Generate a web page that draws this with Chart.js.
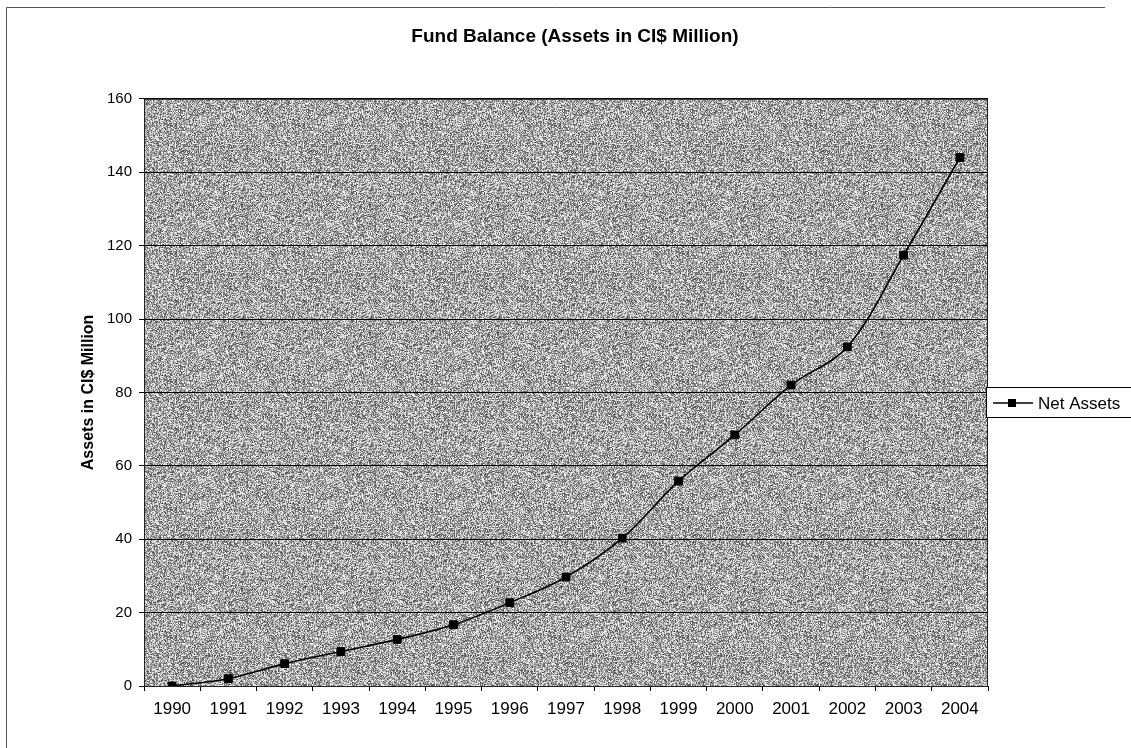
<!DOCTYPE html>
<html>
<head>
<meta charset="utf-8">
<title>Fund Balance</title>
<script src="https://cdn.jsdelivr.net/npm/chart.js"></script>
<style>
  html, body { margin: 0; padding: 0; background: #fff; }
  #wrap { position: relative; width: 1131px; height: 748px; }
</style>
</head>
<body>
<div id="wrap"><canvas id="fundChart" width="1131" height="748"></canvas></div>
<script>
// data
var years = ['1990', '1991', '1992', '1993', '1994', '1995', '1996', '1997',
             '1998', '1999', '2000', '2001', '2002', '2003', '2004'];
var netAssets = [0, 2.0, 6.1, 9.4, 12.7, 16.7, 22.7, 29.7,
                 40.3, 55.8, 68.4, 82.0, 92.4, 117.4, 144.0];
var yTicks = [0, 20, 40, 60, 80, 100, 120, 140, 160];
var seriesName = 'Net Assets';
var chartTitle = 'Fund Balance (Assets in CI$ Million)';
var yTitle = 'Assets in CI$ Million';

var FONT = '"Liberation Sans", Arial, sans-serif';
Chart.defaults.font.family = FONT;
Chart.defaults.color = '#000';

// grey speckled fill like the old excel plot area
function speckle(ctx) {
  var c = document.createElement('canvas');
  c.width = 128; c.height = 128;
  var g = c.getContext('2d');
  var img = g.createImageData(128, 128);
  for (var y = 0; y < 128; y++) {
    for (var x = 0; x < 128; x++) {
      var h = Math.imul(x, 374761393) + Math.imul(y, 668265263);
      h = Math.imul(h ^ (h >>> 13), 1274126177);
      h ^= h >>> 16;
      var v = 78 + Math.floor((h & 255) * 0.7);
      var i = (y * 128 + x) * 4;
      img.data[i] = v; img.data[i + 1] = v; img.data[i + 2] = v; img.data[i + 3] = 255;
    }
  }
  g.putImageData(img, 0, 0);
  return ctx.createPattern(c, 'repeat');
}

var plotDecor = {
  id: 'plotDecor',
  beforeDraw: function(chart) {
    var a = chart.chartArea, ctx = chart.ctx;
    ctx.save();
    ctx.fillStyle = speckle(ctx);
    ctx.fillRect(a.left, a.top, a.right - a.left, a.bottom - a.top);
    ctx.restore();
  },
  afterDraw: function(chart) {
    var a = chart.chartArea, ctx = chart.ctx;
    ctx.save();
    // plot border
    ctx.strokeStyle = '#222';
    ctx.lineWidth = 1;
    ctx.strokeRect(a.left + 0.5, a.top + 0.5, a.right - a.left - 1, a.bottom - a.top);

    // outer frame (top and left edge of the scanned page)
    ctx.strokeStyle = '#555';
    ctx.beginPath();
    ctx.moveTo(6.5, 748); ctx.lineTo(6.5, 7.5); ctx.lineTo(1105, 7.5);
    ctx.stroke();

    // legend
    var lx = 986.5, ly = 387.5, my = 403;
    ctx.fillStyle = '#fff';
    ctx.fillRect(lx, ly, 150, 30);
    ctx.strokeStyle = '#000';
    ctx.strokeRect(lx, ly, 150, 30);
    ctx.lineWidth = 1.5;
    ctx.beginPath();
    ctx.moveTo(993, my); ctx.lineTo(1033, my);
    ctx.stroke();
    ctx.fillStyle = '#000';
    ctx.fillRect(1008, my - 4, 8, 8);
    ctx.font = '17px ' + FONT;
    ctx.textBaseline = 'middle';
    ctx.textAlign = 'left';
    ctx.fillText(seriesName, 1038, my + 1);
    ctx.restore();
  }
};

var ctx = document.getElementById('fundChart').getContext('2d');
var fundChart = new Chart(ctx, {
  type: 'line',
  data: {
    labels: years,
    datasets: [{
      label: seriesName,
      data: netAssets,
      borderColor: '#000',
      borderWidth: 1.6,
      tension: 0.35,
      fill: false,
      pointStyle: 'rect',
      pointRadius: 5.5,
      pointBorderWidth: 1,
      pointBackgroundColor: '#000',
      pointBorderColor: '#000'
    }]
  },
  options: {
    responsive: false,
    animation: false,
    layout: { padding: { left: 19, right: 0, top: 0, bottom: 0 } },
    plugins: {
      legend: { display: false },
      tooltip: { enabled: false },
      title: {
        display: true,
        text: chartTitle,
        color: '#000',
        font: { size: 19, weight: 'bold' },
        padding: { top: 25, bottom: 51 }
      }
    },
    scales: {
      x: {
        type: 'category',
        offset: true,
        grid: { display: true, drawOnChartArea: false, offset: true, tickLength: 5, color: '#000' },
        border: { display: true, color: '#000', width: 1 },
        ticks: { color: '#000', font: { size: 17 }, padding: 8, maxRotation: 0, autoSkip: false },
        afterFit: function(s) { s.height = 62; }
      },
      y: {
        min: 0,
        max: 160,
        grid: { color: '#000', lineWidth: 1, tickLength: 5 },
        border: { display: true, color: '#000', width: 1 },
        ticks: { color: '#000', font: { size: 15 }, padding: 7 },
        afterBuildTicks: function(s) {
          s.ticks = yTicks.map(function(v) { return { value: v }; });
        },
        title: {
          display: true,
          text: yTitle,
          color: '#000',
          font: { size: 16, weight: 'bold' },
          padding: { top: 60, bottom: 0 }
        },
        afterFit: function(s) { s.width = 125; }
      },
      // empty right axis, only keeps room for the legend
      y2: {
        position: 'right',
        display: true,
        grid: { display: false },
        border: { display: false },
        ticks: { display: false },
        afterFit: function(s) { s.width = 143; }
      }
    }
  },
  plugins: [plotDecor]
});
</script>
</body>
</html>
